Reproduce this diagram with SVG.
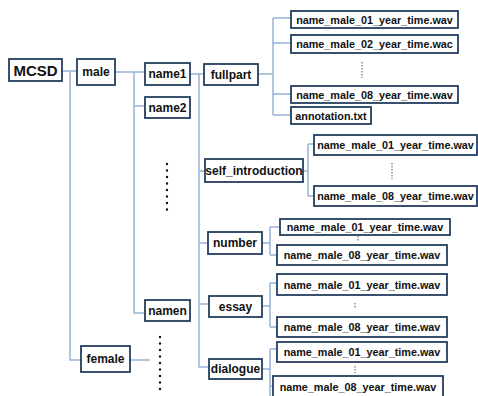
<svg xmlns="http://www.w3.org/2000/svg" width="478" height="396" viewBox="0 0 478 396">
<style>
.box{fill:#fff;stroke:#243F60;stroke-width:1.8}
.t{font-family:"Liberation Sans",Arial,sans-serif;font-weight:bold;font-size:12px;fill:#111;text-anchor:middle;dominant-baseline:central}
.f{font-size:10.8px}
.big{font-size:15px}
.c{stroke:#95B3D7;stroke-width:1.5;fill:none}
.dots{stroke:#111;stroke-width:2.4;stroke-linecap:round;stroke-dasharray:0 6.5;fill:none}
.fine{stroke:#555;stroke-width:1;stroke-dasharray:1.5 1.5;fill:none}
</style>
<rect width="478" height="396" fill="#fff"/>
<g id="connectors">
<path class="c" d="M62,71H77M70,71V360H81"/>
<path class="c" d="M115,72H145M134,72V313H145M134,106H145"/>
<path class="c" d="M190,74H204M199,74V367H209M199,171H205M199,243H208M199,304H209"/>
<path class="c" d="M258,74H273M273,18V115M273,18H291M273,43H291M273,94H291M273,115H291"/>
<path class="c" d="M303,171H308M308,144V196M308,144H314M308,196H314"/>
<path class="c" d="M262,243H270M270,227V255M270,227H280M270,255H277"/>
<path class="c" d="M262,306H270M270,283V327M270,283H277M270,327H277"/>
<path class="c" d="M262,369H270M270,349V396M270,349H277M270,386H273"/>
<path class="c" d="M130,360H150"/>
</g>
<g id="MCSD"><rect class="box" x="9" y="59" width="53" height="22"/><text class="t big" x="35.5" y="70.5">MCSD</text></g>
<g id="male"><rect class="box" x="77" y="59" width="38" height="26"/><text class="t" x="96" y="72">male</text></g>
<g id="female"><rect class="box" x="81" y="346" width="49" height="26"/><text class="t" x="105.5" y="359">female</text></g>
<g id="name1"><rect class="box" x="145" y="63" width="45" height="22"/><text class="t" x="167.5" y="74">name1</text></g>
<g id="name2"><rect class="box" x="145" y="97" width="45" height="21"/><text class="t" x="167.5" y="107.5">name2</text></g>
<g id="namen"><rect class="box" x="145" y="300" width="45" height="21"/><text class="t" x="167.5" y="310.5">namen</text></g>
<g id="fullpart"><rect class="box" x="204" y="64" width="54" height="21"/><text class="t" x="231" y="74.5">fullpart</text></g>
<g id="self_introduction"><rect class="box" x="205" y="159" width="98" height="23"/><text class="t" x="254" y="170.5">self_introduction</text></g>
<g id="number"><rect class="box" x="208" y="232" width="54" height="22"/><text class="t" x="235" y="243">number</text></g>
<g id="essay"><rect class="box" x="209" y="296" width="53" height="21"/><text class="t" x="235.5" y="306.5">essay</text></g>
<g id="dialogue"><rect class="box" x="209" y="359" width="53" height="20"/><text class="t" x="235.5" y="369">dialogue</text></g>
<g id="fp01"><rect class="box" x="291" y="11" width="167" height="17"/><text class="t f" x="374.5" y="19.5">name_male_01_year_time.wav</text></g>
<g id="fp02"><rect class="box" x="291" y="35" width="167" height="18"/><text class="t f" x="374.5" y="44">name_male_02_year_time.wac</text></g>
<g id="fp08"><rect class="box" x="291" y="86" width="167" height="17"/><text class="t f" x="374.5" y="94.5">name_male_08_year_time.wav</text></g>
<g id="annotation"><rect class="box" x="291" y="107" width="80" height="17"/><text class="t f" x="331" y="115.5">annotation.txt</text></g>
<g id="si01"><rect class="box" x="314" y="135" width="163" height="20"/><text class="t f" x="395.5" y="145">name_male_01_year_time.wav</text></g>
<g id="si08"><rect class="box" x="314" y="186" width="163" height="20"/><text class="t f" x="395.5" y="196">name_male_08_year_time.wav</text></g>
<g id="nu01"><rect class="box" x="280" y="219" width="170" height="16"/><text class="t f" x="365" y="227">name_male_01_year_time.wav</text></g>
<g id="nu08"><rect class="box" x="277" y="245" width="170" height="20"/><text class="t f" x="362" y="255">name_male_08_year_time.wav</text></g>
<g id="es01"><rect class="box" x="277" y="274" width="170" height="21"/><text class="t f" x="362" y="284.5">name_male_01_year_time.wav</text></g>
<g id="es08"><rect class="box" x="277" y="317" width="170" height="20"/><text class="t f" x="362" y="327">name_male_08_year_time.wav</text></g>
<g id="di01"><rect class="box" x="277" y="342" width="170" height="20"/><text class="t f" x="362" y="352">name_male_01_year_time.wav</text></g>
<g id="di08"><rect class="box" x="273" y="376" width="170" height="22"/><text class="t f" x="358" y="387">name_male_08_year_time.wav</text></g>
<path class="dots" d="M167,164V216"/>
<path class="dots" d="M160,337V390"/>
<path class="fine" d="M362,62V78M392,163V179M358,236V242M355,303V309M355,366V373"/>
</svg>
